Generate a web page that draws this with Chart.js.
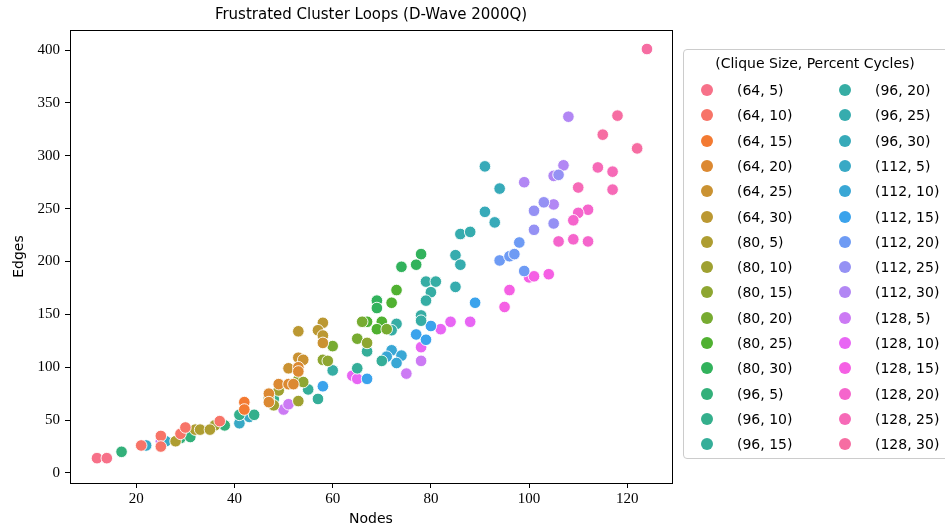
<!DOCTYPE html>
<html>
<head>
<meta charset="utf-8">
<script src="https://cdn.jsdelivr.net/npm/chart.js@4"></script>
<style>
  html, body { margin: 0; padding: 0; background: #fff; overflow: hidden; }
  #wrap { position: relative; width: 945px; height: 529px; }
  #legend {
    position: absolute; left: 683px; top: 49px; width: 275px; height: 410px;
    border: 1px solid #cccccc; border-radius: 4px; box-sizing: border-box;
    font-family: 'DejaVu Sans', sans-serif; font-size: 14px; color: #000;
  }
  #legend .ttl { position: absolute; left: 0; width: 262px; top: 5px; text-align: center; }
  #legend .item { position: absolute; height: 20px; line-height: 20px; white-space: nowrap; }
  #legend .dot { position: absolute; left: 0; top: 4px; width: 12px; height: 12px; border-radius: 50%; }
  #legend .lbl { position: absolute; left: 36px; top: 0; }
</style>
</head>
<body>
<div id="wrap">
  <canvas id="chart" width="945" height="529"></canvas>
  <div id="legend"></div>
</div>
<script>
// series keys, in the order seaborn assigns hue colours
const cliqueSizes = [64, 80, 96, 112, 128];
const percentCycles = [5, 10, 15, 20, 25, 30];

// one inner list per (clique size, percent cycles) pair, same order as above
const nodeCounts = [
  [12, 14],
  [21, 25, 25, 29, 30, 37],
  [42, 42],
  [47, 47, 49, 51, 52, 53, 53],
  [51, 53, 54, 58],
  [53, 58, 57, 58],
  [28, 32, 33, 35],
  [36, 47, 48, 49, 53],
  [53, 54, 58, 59, 67],
  [60, 66, 71, 65],
  [73, 72, 67, 70, 69],
  [78, 77, 74, 69, 69],
  [17, 29, 31, 38],
  [41, 44, 48],
  [55, 57, 67, 65, 70],
  [60, 73, 72, 79, 81, 80, 79, 78, 78],
  [86, 88, 85, 86, 85],
  [91, 94, 91, 93],
  [22, 26, 41, 43],
  [72, 71, 74, 73],
  [58, 67, 77, 79, 80, 89],
  [94, 96, 97, 98, 99],
  [101, 103, 101, 105, 106],
  [99, 105, 105, 107, 108],
  [25, 50, 51, 75, 78],
  [64, 65, 78, 82, 84, 88],
  [100, 101, 96, 95, 104],
  [106, 112, 110, 109, 109, 112],
  [114, 117, 117, 110],
  [124, 118, 115, 122]
];

const edgeCounts = [
  [14, 14],
  [26, 35, 25, 37, 43, 49],
  [67, 60],
  [75, 67, 84, 84, 84, 100, 96],
  [99, 109, 107, 123],
  [134, 142, 135, 130],
  [30, 41, 41, 41],
  [45, 71, 64, 78, 68],
  [88, 86, 107, 106, 123],
  [120, 143, 136, 127],
  [173, 161, 143, 143, 136],
  [207, 197, 195, 163, 156],
  [20, 33, 34, 45],
  [55, 55, 70],
  [79, 70, 115, 99, 106],
  [97, 141, 135, 181, 181, 171, 163, 149, 144],
  [226, 228, 206, 197, 176],
  [290, 269, 247, 237],
  [26, 30, 47, 53],
  [116, 110, 111, 104],
  [82, 89, 131, 126, 139, 161],
  [201, 205, 207, 218, 191],
  [248, 256, 230, 236, 282],
  [275, 254, 281, 291, 337],
  [30, 60, 65, 94, 106],
  [92, 89, 119, 136, 143, 143],
  [185, 186, 173, 157, 188],
  [219, 249, 246, 239, 221, 219],
  [289, 285, 268, 270],
  [401, 338, 320, 307]
];

const xTickValues = [20, 40, 60, 80, 100, 120];
const yTickValues = [0, 50, 100, 150, 200, 250, 300, 350, 400];

// seaborn's default "husl" palette, ported from the husl.py conversion
function huslToHex(H, S, L) {
  const m = [[3.2406, -1.5372, -0.4986], [-0.9689, 1.8758, 0.0415], [0.0557, -0.2040, 1.0570]];
  const refU = 0.19784, refV = 0.46834;
  const hrad = H * Math.PI / 180;
  const sinH = Math.sin(hrad), cosH = Math.cos(hrad);
  const sub1 = Math.pow(L + 16, 3) / 1560896;
  const sub2 = sub1 > 0.008856 ? sub1 : L / 903.3;
  let maxC = Infinity;
  m.forEach(([m1, m2, m3]) => {
    const top = (0.99915 * m1 + 1.05122 * m2 + 1.14460 * m3) * sub2;
    const rb = 0.86330 * m3 - 0.17266 * m2;
    const lb = 0.12949 * m3 - 0.38848 * m1;
    const bottom = (rb * sinH + lb * cosH) * sub2;
    [0, 1].forEach(t => {
      const C = L * (top - 1.05122 * t) / (bottom + 0.17266 * sinH * t);
      if (C > 0 && C < maxC) maxC = C;
    });
  });
  const C = maxC / 100 * S;
  const U = Math.cos(hrad) * C, V = Math.sin(hrad) * C;
  const Y = L > 8 ? Math.pow((L + 16) / 116, 3) : L / 903.3;
  const varU = U / (13 * L) + refU;
  const varV = V / (13 * L) + refV;
  const X = -(9 * Y * varU) / ((varU - 4) * varV - varU * varV);
  const Z = (9 * Y - 15 * varV * Y - varV * X) / (3 * varV);
  const rgb = m.map(r => {
    let c = r[0] * X + r[1] * Y + r[2] * Z;
    c = c <= 0.0031308 ? 12.92 * c : 1.055 * Math.pow(c, 1 / 2.4) - 0.055;
    return Math.round(Math.min(1, Math.max(0, c)) * 255);
  });
  return '#' + rgb.map(v => v.toString(16).padStart(2, '0')).join('');
}

const labels = [];
cliqueSizes.forEach(c => percentCycles.forEach(p => labels.push(`(${c}, ${p})`)));
const colors = labels.map((_, i) => huslToHex(((i / labels.length + 0.01) % 1) * 359, 0.9 * 99, 0.65 * 99));

const datasets = labels.map((label, i) => ({
  label,
  data: nodeCounts[i].map((x, j) => ({ x, y: edgeCounts[i][j] })),
  backgroundColor: colors[i],
  borderColor: '#ffffff',
  borderWidth: 0.9,
  pointRadius: 5.8,
  pointHoverRadius: 5.8
}));

const serifTicks = { family: "'Liberation Serif', serif", size: 15 };
const sansFont = { family: "'DejaVu Sans', sans-serif", size: 14 };

// matplotlib draws all four spines
const frame = {
  id: 'frame',
  afterDraw(chart) {
    const { ctx, chartArea: a } = chart;
    ctx.save();
    ctx.strokeStyle = '#000';
    ctx.lineWidth = 1;
    ctx.strokeRect(Math.round(a.left) + 0.5, Math.round(a.top) + 0.5,
      Math.round(a.right - a.left), Math.round(a.bottom - a.top));
    ctx.restore();
  }
};

new Chart(document.getElementById('chart'), {
  type: 'scatter',
  data: { datasets },
  plugins: [frame],
  options: {
    responsive: false,
    animation: false,
    events: [],
    layout: { padding: { left: 0, right: 273, top: 0, bottom: 0 } },
    plugins: {
      legend: { display: false },
      tooltip: { enabled: false },
      title: {
        display: true,
        fullSize: false,
        text: 'Frustrated Cluster Loops (D-Wave 2000Q)',
        color: '#000',
        font: { family: "'DejaVu Sans', sans-serif", size: 15, weight: 'normal' },
        padding: { top: 6, bottom: 6 }
      }
    },
    scales: {
      x: {
        type: 'linear',
        min: 6.5,
        max: 129.1,
        afterBuildTicks: s => { s.ticks = xTickValues.map(value => ({ value })); },
        afterFit: s => { s.height = 46; },
        grid: { drawOnChartArea: false, drawTicks: true, tickLength: 5, color: '#000' },
        border: { display: false },
        ticks: { color: '#000', font: serifTicks, padding: 2, maxRotation: 0 },
        title: { display: true, text: 'Nodes', color: '#000', font: sansFont, padding: { top: 0, bottom: 1 } }
      },
      y: {
        type: 'linear',
        min: -9.5,
        max: 419,
        afterBuildTicks: s => { s.ticks = yTickValues.map(value => ({ value })); },
        afterFit: s => { s.width = 70; },
        grid: { drawOnChartArea: false, drawTicks: true, tickLength: 5, color: '#000' },
        border: { display: false },
        ticks: { color: '#000', font: serifTicks, padding: 5 },
        title: { display: true, text: 'Edges', color: '#000', font: sansFont, padding: { top: 11, bottom: 0 } }
      }
    }
  }
});

// two-column legend box, built from the same labels and colours
const legend = document.getElementById('legend');
const head = document.createElement('div');
head.className = 'ttl';
head.textContent = '(Clique Size, Percent Cycles)';
legend.appendChild(head);
labels.forEach((label, i) => {
  const col = Math.floor(i / 15), row = i % 15;
  const item = document.createElement('div');
  item.className = 'item';
  item.style.left = (17 + col * 138) + 'px';
  item.style.top = (30 + row * 25.3) + 'px';
  item.innerHTML = `<span class="dot" style="background:${colors[i]}"></span><span class="lbl">${label}</span>`;
  legend.appendChild(item);
});
</script>
</body>
</html>
